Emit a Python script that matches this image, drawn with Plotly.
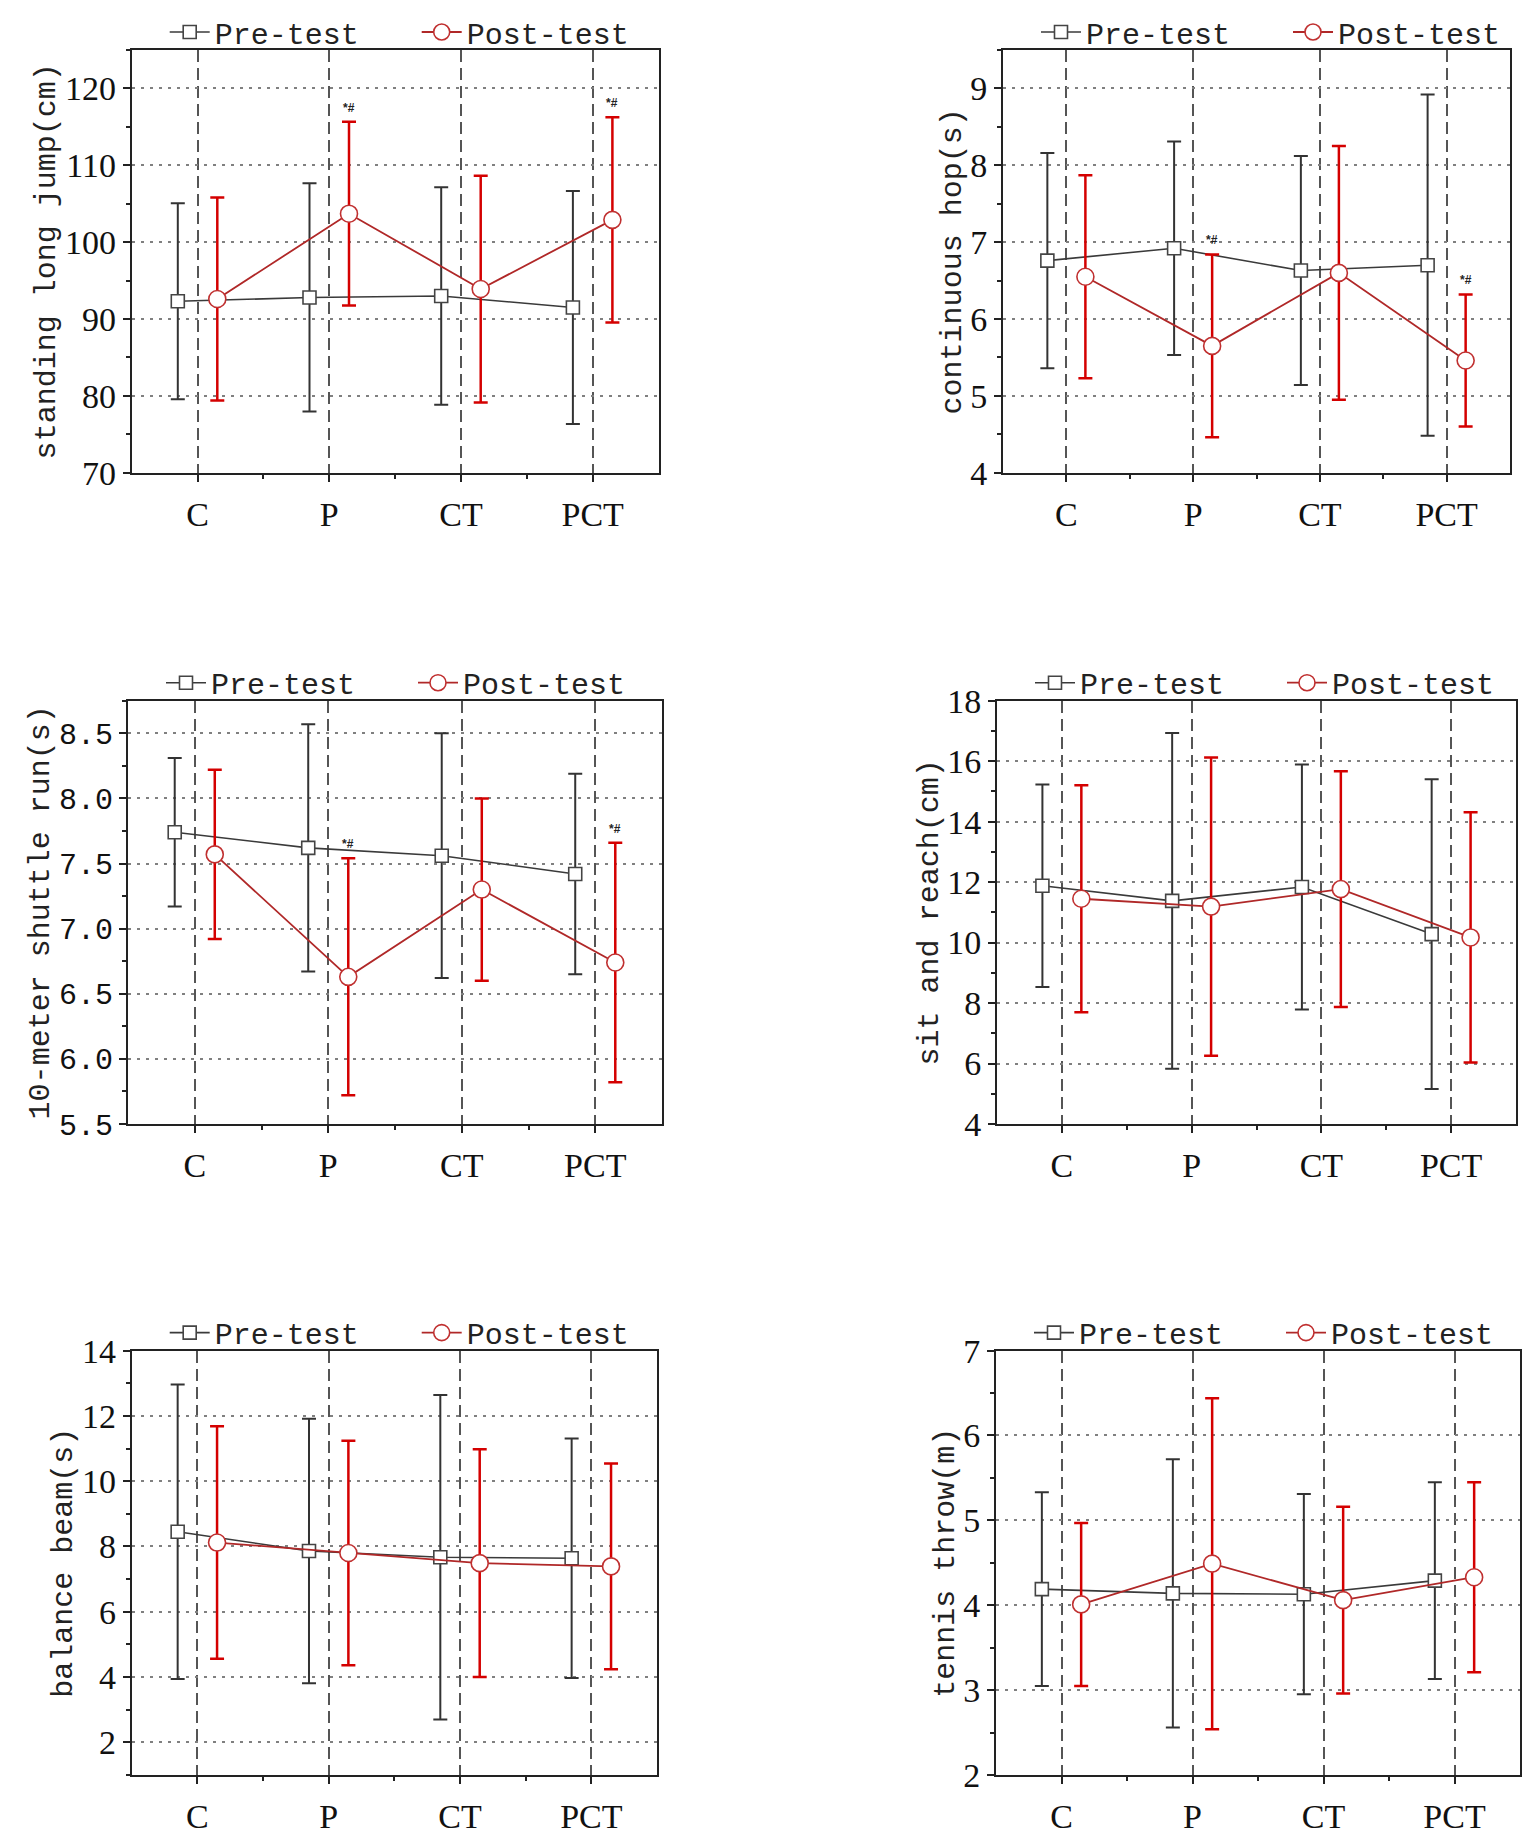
import plotly.graph_objects as go

# page body has an 8 px margin, so the figure is drawn 8 px in from the window edge
PAGE_W, PAGE_H, BODY = 1535, 1842, 8
W, H = PAGE_W - 2 * BODY, PAGE_H - 2 * BODY

categories = ["C", "P", "CT", "PCT"]
cat_pos = [1, 2, 3, 4]

titles = ["standing long jump(cm)", "continuous hop(s)", "10-meter shuttle run(s)",
          "sit and reach(cm)", "balance beam(s)", "tennis throw(m)"]

# panel 1: standing long jump
jump_pre_mean = [92.3, 92.8, 93.0, 91.5]
jump_pre_sd = [12.75, 14.85, 14.15, 15.15]
jump_post_mean = [92.6, 103.7, 93.9, 102.9]
jump_post_sd = [13.2, 11.95, 14.75, 13.35]

# panel 2: continuous hop
hop_pre_mean = [6.76, 6.92, 6.63, 6.70]
hop_pre_sd = [1.40, 1.39, 1.49, 2.22]
hop_post_mean = [6.55, 5.65, 6.60, 5.46]
hop_post_sd = [1.32, 1.19, 1.65, 0.86]

# panel 3: 10-meter shuttle run
run_pre_mean = [7.74, 7.62, 7.56, 7.42]
run_pre_sd = [0.57, 0.95, 0.94, 0.77]
run_post_mean = [7.57, 6.63, 7.30, 6.74]
run_post_sd = [0.65, 0.91, 0.70, 0.92]

# panel 4: sit and reach
sit_pre_mean = [11.88, 11.38, 11.84, 10.28]
sit_pre_sd = [3.35, 5.55, 4.05, 5.12]
sit_post_mean = [11.45, 11.19, 11.77, 10.17]
sit_post_sd = [3.75, 4.93, 3.90, 4.14]

# panel 5: balance beam
beam_pre_mean = [8.45, 7.86, 7.67, 7.64]
beam_pre_sd = [4.51, 4.05, 4.97, 3.67]
beam_post_mean = [8.12, 7.80, 7.49, 7.39]
beam_post_sd = [3.56, 3.44, 3.49, 3.15]

# panel 6: tennis throw
throw_pre_mean = [4.19, 4.14, 4.13, 4.29]
throw_pre_sd = [1.14, 1.58, 1.18, 1.16]
throw_post_mean = [4.01, 4.49, 4.06, 4.33]
throw_post_sd = [0.96, 1.95, 1.10, 1.12]

# significance marks ("*#") on post-test values: panel -> category indices
sig_marks = {1: [1, 3], 2: [1, 3], 3: [1, 3]}

panels = [
    (jump_pre_mean, jump_pre_sd, jump_post_mean, jump_post_sd),
    (hop_pre_mean, hop_pre_sd, hop_post_mean, hop_post_sd),
    (run_pre_mean, run_pre_sd, run_post_mean, run_post_sd),
    (sit_pre_mean, sit_pre_sd, sit_post_mean, sit_post_sd),
    (beam_pre_mean, beam_pre_sd, beam_post_mean, beam_post_sd),
    (throw_pre_mean, throw_pre_sd, throw_post_mean, throw_post_sd),
]

# axis settings: range, tick0, dtick, minor dtick, tickformat
yaxes_cfg = [
    ([70, 125], 70, 10, 5, None),
    ([4, 9.5], 4, 1, 0.5, None),
    ([5.5, 8.75], 5.5, 0.5, 0.25, ".1f"),
    ([4, 18], 4, 2, 1, None),
    ([1, 14], 2, 2, 1, None),
    ([2, 7], 2, 1, 0.5, None),
]

# plot area boxes in window pixels (left, right, top, bottom)
boxes = [
    (131.7, 658.5, 50, 472.7),
    (1003, 1510, 50, 472.7),
    (128, 662, 700.7, 1124),
    (997, 1516, 700.7, 1124),
    (131.7, 657, 1350.6, 1775),
    (996, 1520, 1350.6, 1775),
]


def fx(px):
    return (px - BODY) / W


def fy(py):
    return 1 - (py - BODY) / H


OFF = 0.15
PRE_LINE = "#3a3a3a"
PRE_ERR = "#333333"
POST_LINE = "#b02828"
POST_ERR = "#d40000"

fig = go.Figure()
layout = dict(
    width=W, height=H, margin=dict(l=0, r=0, t=0, b=0, autoexpand=False),
    paper_bgcolor="white", plot_bgcolor="white", showlegend=True,
)
annotations = []

for i, (pm, ps, qm, qs) in enumerate(panels):
    n = i + 1
    sfx = "" if n == 1 else str(n)
    xa, ya = "x" + sfx, "y" + sfx
    leg = "legend" + sfx
    fig.add_trace(go.Scatter(
        x=[c - OFF for c in cat_pos], y=pm, name="Pre-test", mode="lines+markers",
        xaxis=xa, yaxis=ya, legend=leg,
        line=dict(color=PRE_LINE, width=1.6),
        marker=dict(symbol="square", size=13, color="white", line=dict(color="#444444", width=1.6)),
        error_y=dict(type="data", array=ps, visible=True, color=PRE_ERR, thickness=2, width=7),
    ))
    fig.add_trace(go.Scatter(
        x=[c + OFF for c in cat_pos], y=qm, name="Post-test", mode="lines+markers",
        xaxis=xa, yaxis=ya, legend=leg,
        line=dict(color=POST_LINE, width=1.8),
        marker=dict(symbol="circle", size=17, color="white", line=dict(color="#c03030", width=1.6)),
        error_y=dict(type="data", array=qs, visible=True, color=POST_ERR, thickness=2.5, width=7),
    ))

    l, r, t, b = boxes[i]
    xd = [fx(l), fx(r)]
    yd = [fy(b), fy(t)]
    rng, t0, dt, mdt, fmt = yaxes_cfg[i]

    layout["xaxis" + sfx] = dict(
        domain=xd, anchor=ya, range=[0.5, 4.5], automargin=False,
        tickmode="array", tickvals=cat_pos, ticktext=categories,
        ticks="outside", ticklen=7, tickwidth=2, tickcolor="#222",
        showline=True, linecolor="#222", linewidth=2, mirror=True,
        showgrid=True, gridcolor="#555555", gridwidth=2, griddash="12px,6px",
        zeroline=False,
        tickfont=dict(family="Liberation Serif", size=34, color="#111"),
        ticklabelstandoff=3,
        minor=dict(tickmode="array", tickvals=[1.5, 2.5, 3.5], ticks="outside",
                   ticklen=4, tickwidth=1.5, tickcolor="#222", showgrid=False),
    )
    yt = dict(
        domain=yd, anchor=xa, range=rng, automargin=False,
        tickmode="linear", tick0=t0, dtick=dt,
        ticks="outside", ticklen=7, tickwidth=2, tickcolor="#222",
        showline=True, linecolor="#222", linewidth=2, mirror=True,
        showgrid=True, gridcolor="#808080", gridwidth=2, griddash="3px,6px",
        zeroline=False,
        tickfont=dict(family="Liberation Mono" if fmt else "Liberation Serif",
                      size=30 if fmt else 34, color="#111"),
        title=dict(text=titles[i], standoff=0,
                   font=dict(family="Liberation Mono", size=30, color="#222")),
        minor=dict(dtick=mdt, tick0=t0, ticks="outside", ticklen=4, tickwidth=1.5,
                   tickcolor="#222", showgrid=False),
    )
    if fmt:
        yt["tickformat"] = fmt
    layout["yaxis" + sfx] = yt

    layout[leg] = dict(
        orientation="h", xref="paper", yref="paper",
        x=fx(l + 33), xanchor="left",
        y=fy(t - 18), yanchor="middle",
        font=dict(family="Liberation Mono", size=30, color="#222"),
        bgcolor="rgba(0,0,0,0)", itemwidth=40, tracegroupgap=0,
        entrywidth=197,
    )

    for k in sig_marks.get(n, []):
        annotations.append(dict(
            x=cat_pos[k] + OFF, y=qm[k] + qs[k], xref=xa, yref=ya,
            text="<b>*#</b>", showarrow=False, yanchor="bottom", yshift=5,
            font=dict(family="Liberation Sans", size=12, color="#222"),
        ))

layout["annotations"] = annotations
fig.update_layout(**layout)
fig.write_html("out.html")
